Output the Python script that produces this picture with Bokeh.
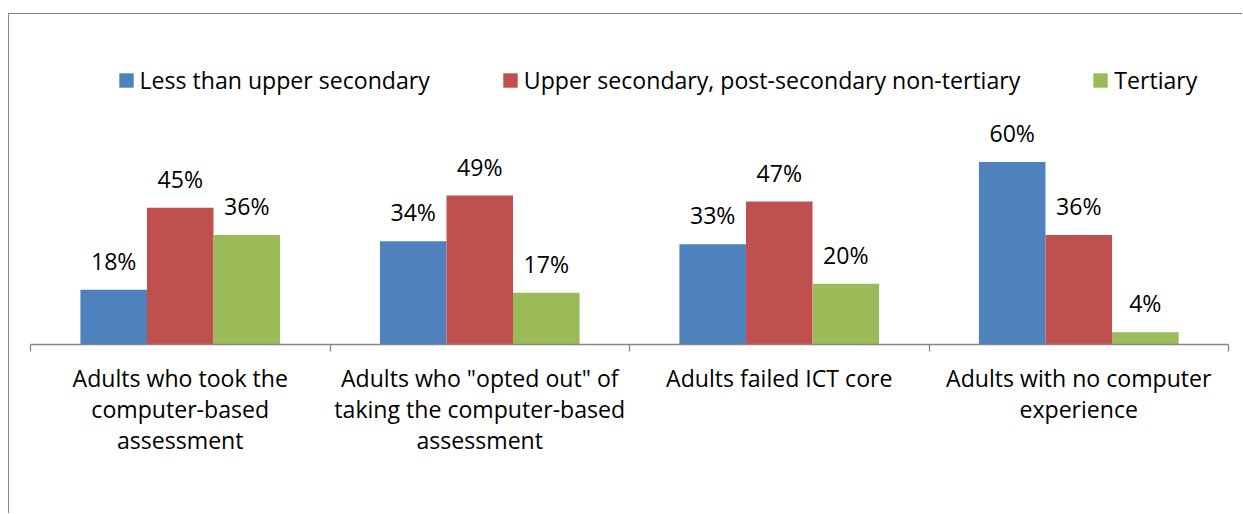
from bokeh.plotting import figure
from bokeh.models import (ColumnDataSource, Range1d, LinearAxis, FixedTicker,
                          Legend, LegendItem)
from bokeh.transform import dodge
from bokeh.core.properties import value
from bokeh.embed import file_html
from bokeh.resources import INLINE

# ---- data ----
categories = [
    "Adults who took the\ncomputer-based\nassessment",
    "Adults who \"opted out\" of\ntaking the computer-based\nassessment",
    "Adults failed ICT core",
    "Adults with no computer\nexperience",
]
series_names = [
    "Less than upper secondary",
    "Upper secondary, post-secondary non-tertiary",
    "Tertiary",
]
less_than_upper_secondary = [18, 34, 33, 60]
upper_secondary = [45, 49, 47, 36]
tertiary = [36, 17, 20, 4]
colors = ["#4F81BD", "#C0504D", "#9BBB59"]

FONT = "Open Sans"
FS = "23.1px"

pos = list(range(1, len(categories) + 1))
series_vals = [less_than_upper_secondary, upper_secondary, tertiary]
data = dict(x=pos)
for k, vals in enumerate(series_vals):
    data[f"s{k}"] = vals
    data[f"l{k}"] = [f"{v}%" for v in vals]
src = ColumnDataSource(data)

p = figure(width=1234, height=500, output_backend="svg", toolbar_location=None,
           x_range=Range1d(0.5, len(categories) + 0.5), y_range=Range1d(0, 100),
           x_axis_location=None, y_axis_location=None,
           min_border_left=21, min_border_right=15, min_border_top=26,
           min_border_bottom=170)
p.outline_line_color = None
p.grid.grid_line_color = None
p.background_fill_color = "white"
p.border_fill_color = "white"
# chart-area border (left and top edges visible in the crop)
p.styles = {"margin-left": "8px", "margin-top": "13px",
            "border-left": "1px solid #868686", "border-top": "1px solid #868686"}

xaxis = LinearAxis(
    ticker=FixedTicker(ticks=pos, minor_ticks=[i - 0.5 for i in pos] + [pos[-1] + 0.5]),
    major_label_overrides={i: c for i, c in zip(pos, categories)},
)
xaxis.axis_line_color = "#868686"
xaxis.axis_line_width = 1.3
xaxis.major_tick_out = 0
xaxis.major_tick_in = 0
xaxis.minor_tick_out = 7
xaxis.minor_tick_in = 0
xaxis.minor_tick_line_color = "#868686"
xaxis.minor_tick_line_width = 1.3
xaxis.major_label_text_font = FONT
xaxis.major_label_text_font_size = FS
xaxis.major_label_text_color = "black"
xaxis.major_label_standoff = 10
xaxis.major_label_text_line_height = 0.97
p.add_layout(xaxis, "below")

w = 1 / 4.5
renderers = []
for k in range(3):
    off = (k - 1) * w
    r = p.vbar(x=dodge("x", off, range=p.x_range), top=f"s{k}", width=w,
               source=src, fill_color=colors[k], line_color=None)
    renderers.append(r)
    p.text(x=dodge("x", off, range=p.x_range), y=f"s{k}", text=f"l{k}", source=src,
           text_align="center", text_baseline="alphabetic", y_offset=-29,
           text_font=value(FONT), text_font_size=FS, text_color="black")

legend = Legend(
    items=[LegendItem(label=n, renderers=[r]) for n, r in zip(series_names, renderers)],
    orientation="horizontal", location=(86.5, 248),
    glyph_width=18, glyph_height=18, label_standoff=5, spacing=71,
    padding=0, margin=0, border_line_color=None, background_fill_alpha=0,
    label_text_font=FONT, label_text_font_size=FS, label_text_color="black",
    label_height=18,
)
p.add_layout(legend)

open("out.html", "w").write(file_html(p, INLINE))
